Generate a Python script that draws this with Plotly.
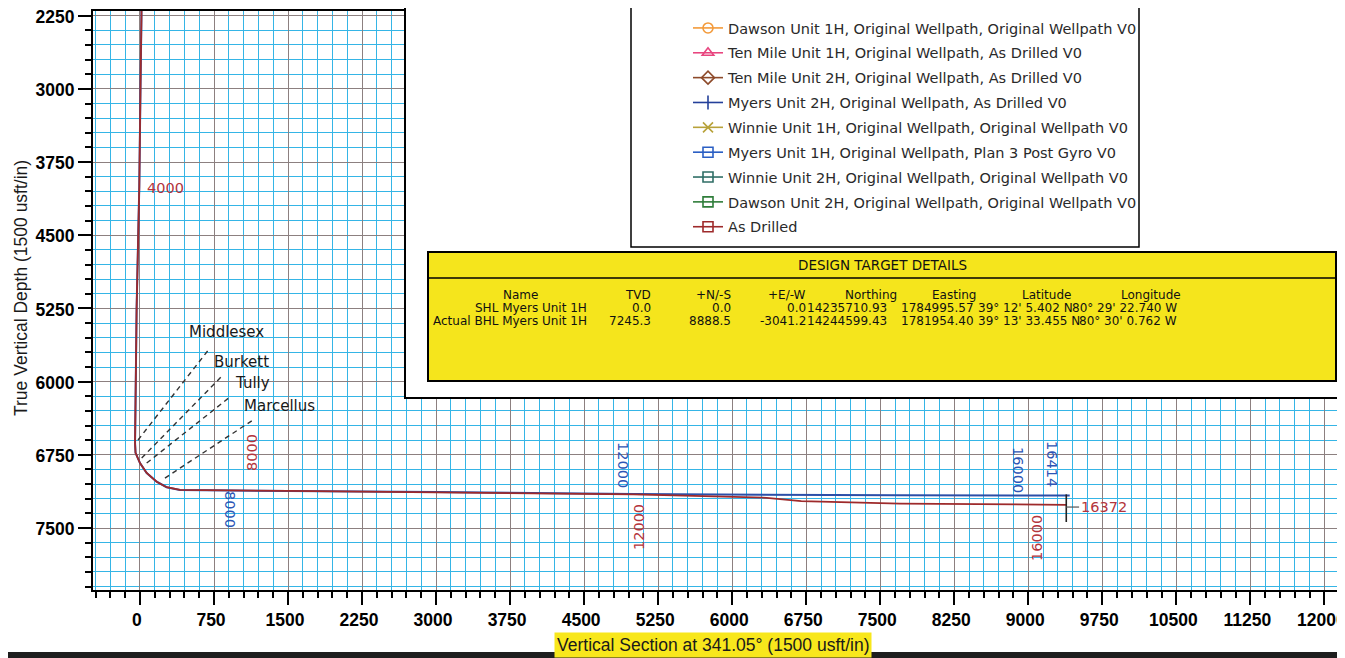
import plotly.graph_objects as go

# ---------------- data ----------------
# As Drilled wellpath (vertical section, TVD)
drilled_vs = [20, 15, 5, -7, -34, -45, -50, -45, 0, 68, 169, 270, 405, 1500, 3000, 5000, 6350, 6700, 7700, 9385]
drilled_tvd = [0, 2250, 3000, 4000, 5250, 6000, 6630, 6730, 6835, 6936, 7025, 7082, 7110, 7120, 7132, 7155, 7190, 7225, 7250, 7262]

# Myers Unit 1H plan (Plan 3 Post Gyro) - coincides with the actual path down to the lateral
plan_vs = [20, 15, 5, -7, -34, -45, -50, -45, 0, 68, 169, 270, 405, 1500, 3000, 5000, 6350, 7700, 9420]
plan_tvd = [0, 2250, 3000, 4000, 5250, 6000, 6630, 6730, 6835, 6936, 7025, 7082, 7110, 7120, 7130, 7152, 7162, 7165, 7166]

legend_names = [
    "Dawson Unit 1H, Original Wellpath, Original Wellpath V0",
    "Ten Mile Unit 1H, Original Wellpath, As Drilled V0",
    "Ten Mile Unit 2H, Original Wellpath, As Drilled V0",
    "Myers Unit 2H, Original Wellpath, As Drilled V0",
    "Winnie Unit 1H, Original Wellpath, Original Wellpath V0",
    "Myers Unit 1H, Original Wellpath, Plan 3 Post Gyro V0",
    "Winnie Unit 2H, Original Wellpath, Original Wellpath V0",
    "Dawson Unit 2H, Original Wellpath, Original Wellpath V0",
    "As Drilled",
]
legend_colors = ["#f39a3a", "#e8457f", "#8d4a2a", "#24409a", "#b8a23a",
                 "#2b5fc4", "#2f6e66", "#2f7d3a", "#9e2a2b"]
legend_symbols = ["circle-open", "triangle-up-open", "diamond-open", "line-ns-open",
                  "x-thin-open", "square-open", "square-open", "square-open", "square-open"]

formation_names = ["Middlesex", "Burkett", "Tully", "Marcellus"]
formation_vs0 = [-20, 17, 68, 253]
formation_tvd0 = [6598, 6783, 6834, 6988]
formation_vs1 = [709, 841, 912, 1145]
formation_tvd1 = [5655, 5932, 6157, 6393]
formation_label_vs = [476, 729, 942, 1033]
formation_label_tvd = [5491, 5799, 6014, 6250]

md_labels = ["4000", "8000", "8000", "12000", "12000", "16000", "16414", "16000"]
md_vs = [263, 1135, 912, 4894, 5056, 8896, 9240, 9088]
md_tvd = [4016, 6731, 7316, 6854, 7490, 6906, 6844, 7602]
md_series = ["drilled", "drilled", "plan", "plan", "drilled", "plan", "plan", "drilled"]
md_angle = [0, -90, 90, 90, -90, 90, 90, -90]

end_tick_vs = [9385, 9385]
end_tick_tvd = [7155, 7438]
end_md_label = "16372"
end_leader_vs = [9385, 9515]
end_leader_tvd = [7285, 7285]

table_title = "DESIGN TARGET DETAILS"
table_header = ["Name", "TVD", "+N/-S", "+E/-W", "Northing", "Easting", "Latitude", "Longitude"]
table_shl = ["SHL Myers Unit 1H", "0.0", "0.0", "0.0", "14235710.93", "1784995.57",
             "39° 12' 5.402 N", "80° 29' 22.740 W"]
table_bhl = ["Actual BHL Myers Unit 1H", "7245.3", "8888.5", "-3041.2", "14244599.43", "1781954.40",
             "39° 13' 33.455 N", "80° 30' 0.762 W"]

x_ticks_dtick = 750
y_ticks_dtick = 750
x_title = "Vertical Section at 341.05° (1500 usft/in)"
y_title = "True Vertical Depth (1500 usft/in)"

# ---------------- layout helpers ----------------
OFF = 8                       # page body margin of the html page
W, H = 1345 - OFF, 658 - OFF
ML, MR, MT, MB = 85, 8, 3, 68
PW, PH = W - ML - MR, H - MT - MB


def px_x(p):   # page pixel -> paper x
    return (p - OFF - ML) / PW


def px_y(p):   # page pixel -> paper y
    return (H - MB - (p - OFF)) / PH


RED = "#9e2a2b"
BLUE = "#2b4fa8"
RED_TXT = "#b3343c"
BLUE_TXT = "#2d55b5"

fig = go.Figure()

# legend entries
for name, col, sym in zip(legend_names, legend_colors, legend_symbols):
    fig.add_trace(go.Scatter(
        x=[None], y=[None], mode="lines+markers", name=name, legendgroup=name,
        line=dict(color=col, width=1.6),
        marker=dict(symbol=sym, size=10, color=col, line=dict(color=col, width=1.6)),
    ))

# formation dip lines
for n, a0, b0, a1, b1 in zip(formation_names, formation_vs0, formation_tvd0, formation_vs1, formation_tvd1):
    fig.add_trace(go.Scatter(
        x=[a0, a1], y=[b0, b1], mode="lines", showlegend=False, hoverinfo="skip",
        line=dict(color="#333333", width=1.4, dash="5px,4px"),
    ))

# plan and as-drilled paths
fig.add_trace(go.Scatter(x=plan_vs, y=plan_tvd, mode="lines", showlegend=False,
                         line=dict(color=BLUE, width=2)))
fig.add_trace(go.Scatter(x=drilled_vs, y=drilled_tvd, mode="lines", showlegend=False,
                         line=dict(color=RED, width=1.8)))
fig.add_trace(go.Scatter(x=end_tick_vs, y=end_tick_tvd, mode="lines", showlegend=False,
                         line=dict(color="#222222", width=1.6)))
fig.add_trace(go.Scatter(x=end_leader_vs, y=end_leader_tvd, mode="lines", showlegend=False,
                         line=dict(color="#555555", width=1.2)))

annotations = []
# MD labels
for t, vx, vy, s, ang in zip(md_labels, md_vs, md_tvd, md_series, md_angle):
    annotations.append(dict(x=vx, y=vy, xref="x", yref="y", text=t, showarrow=False,
                            xanchor="center", yanchor="middle", textangle=ang,
                            font=dict(family="DejaVu Sans", size=14.5,
                                      color=RED_TXT if s == "drilled" else BLUE_TXT)))
annotations.append(dict(x=end_leader_vs[1], y=end_leader_tvd[1], xref="x", yref="y", text=end_md_label,
                        showarrow=False, xanchor="left", yanchor="middle",
                        font=dict(family="DejaVu Sans", size=14.5, color=RED_TXT)))
# formation labels
for n, vx, vy in zip(formation_names, formation_label_vs, formation_label_tvd):
    annotations.append(dict(x=vx, y=vy, xref="x", yref="y", text=n, showarrow=False,
                            xanchor="left", yanchor="middle",
                            font=dict(family="DejaVu Sans", size=15, color="#1a1a1a")))

# axis titles
annotations.append(dict(x=px_x(713), y=px_y(645), xref="paper", yref="paper", text=x_title,
                        showarrow=False, xanchor="center", yanchor="middle",
                        bgcolor="#f8e71c", borderpad=2,
                        font=dict(family="Liberation Sans", size=17.5, color="#1a1a1a")))
annotations.append(dict(x=px_x(21), y=px_y(288), xref="paper", yref="paper", text=y_title,
                        showarrow=False, textangle=-90, xanchor="center", yanchor="middle",
                        font=dict(family="Liberation Sans", size=17.5, color="#1a1a1a")))

# table
TF = dict(family="DejaVu Sans", size=12, color="#111111")
annotations.append(dict(x=px_x(882), y=px_y(265), xref="paper", yref="paper", text=table_title,
                        showarrow=False, xanchor="center", yanchor="middle",
                        font=dict(family="DejaVu Sans", size=13.5, color="#111111")))
header_pos = [520, 652, 732, 807, 898, 977, 1072, 1182]
data_pos = [588, 652, 732, 807, 888, 975, 977, 1178]
data_anchor = ["right", "right", "right", "right", "right", "right", "left", "right"]
for i, h in enumerate(table_header):
    annotations.append(dict(x=px_x(header_pos[i]), y=px_y(295), xref="paper", yref="paper", text=h,
                            showarrow=False, xanchor="center" if i == 0 else "right", yanchor="middle",
                            font=TF, borderpad=0))
for row, yy in ((table_shl, 308), (table_bhl, 321)):
    for i, v in enumerate(row):
        annotations.append(dict(x=px_x(data_pos[i]), y=px_y(yy), xref="paper", yref="paper", text=v,
                                showarrow=False, xanchor=data_anchor[i], yanchor="middle",
                                font=TF, borderpad=0))

shapes = [
    # white cover panel
    dict(type="rect", xref="paper", yref="paper", x0=px_x(405), x1=px_x(1370), y0=px_y(398), y1=px_y(-20),
         fillcolor="white", line=dict(color="black", width=2), layer="above"),
    # legend box
    dict(type="rect", xref="paper", yref="paper", x0=px_x(631), x1=px_x(1139), y0=px_y(247), y1=px_y(-20),
         fillcolor="white", line=dict(color="black", width=1.5), layer="above"),
    # yellow table
    dict(type="rect", xref="paper", yref="paper", x0=px_x(428), x1=px_x(1336), y0=px_y(381), y1=px_y(252),
         fillcolor="#f5e51c", line=dict(color="black", width=2), layer="above"),
    dict(type="line", xref="paper", yref="paper", x0=px_x(428), x1=px_x(1336), y0=px_y(278), y1=px_y(278),
         line=dict(color="black", width=1.6), layer="above"),
    # dark scan edge at bottom
    dict(type="rect", xref="paper", yref="paper", x0=px_x(-20), x1=px_x(1370), y0=px_y(670), y1=px_y(652),
         fillcolor="#1e1e1e", line=dict(width=0), layer="above"),
]

tickfont = dict(family="Liberation Sans", size=17.5, color="black", weight="bold")
axis_common = dict(
    showgrid=True, gridcolor="#8c8080", gridwidth=1.2,
    ticks="outside", ticklen=13, tickwidth=2, tickcolor="black",
    showline=True, linecolor="black", linewidth=2, mirror=True,
    zeroline=False, tickfont=tickfont, tick0=0, tickformat="d",
    ticklabeloverflow="allow",
)
fig.update_layout(
    width=W, height=H,
    margin=dict(l=ML, r=MR, t=MT, b=MB, autoexpand=False),
    paper_bgcolor="white", plot_bgcolor="white",
    showlegend=True,
    legend=dict(x=px_x(688), y=px_y(12), xanchor="left", yanchor="top",
                bgcolor="rgba(0,0,0,0)", borderwidth=0, traceorder="grouped", tracegroupgap=3,
                font=dict(family="DejaVu Sans", size=14.5, color="#2a2a2a")),
    xaxis=dict(range=[-476, 12128], dtick=x_ticks_dtick, ticklabelshift=-3,
               minor=dict(dtick=150, tick0=0, showgrid=True, gridcolor="#35b5e6", gridwidth=1.3,
                          ticks="outside", ticklen=6, tickwidth=1.5, tickcolor="black"),
               **axis_common),
    yaxis=dict(range=[8135, 2202], dtick=y_ticks_dtick, ticklabelshift=-1,
               minor=dict(dtick=150, tick0=0, showgrid=True, gridcolor="#35b5e6", gridwidth=1.3,
                          ticks="outside", ticklen=6, tickwidth=1.5, tickcolor="black"),
               **axis_common),
    annotations=annotations,
    shapes=shapes,
)

fig.write_html("out.html")
